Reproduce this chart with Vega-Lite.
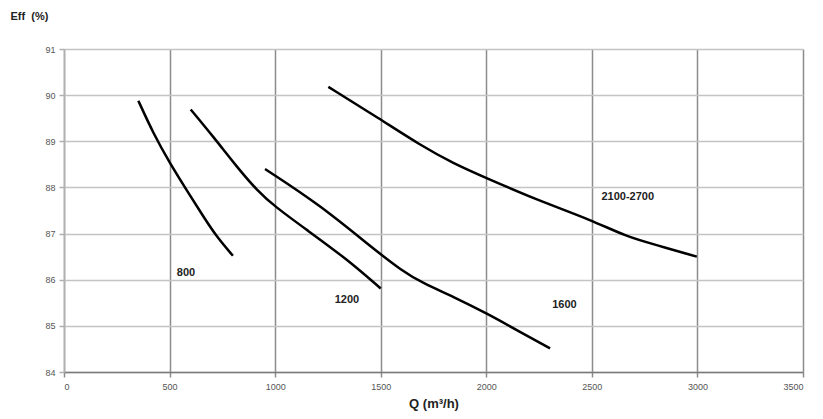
{
  "$schema": "https://vega.github.io/schema/vega-lite/v6.json",
  "width": 739,
  "height": 323,
  "autosize": {"type": "none"},
  "padding": {"left": 64, "top": 49, "right": 20, "bottom": 47},
  "background": "white",
  "config": {"view": {"stroke": null}, "font": "Liberation Sans"},
  "datasets": {
    "curves": [
      {"s": "800", "q": 352, "eff": 89.88},
      {"s": "800", "q": 423, "eff": 89.17},
      {"s": "800", "q": 502, "eff": 88.52},
      {"s": "800", "q": 581, "eff": 87.94},
      {"s": "800", "q": 660, "eff": 87.37},
      {"s": "800", "q": 723, "eff": 86.93},
      {"s": "800", "q": 800, "eff": 86.52},
      {"s": "1200", "q": 600, "eff": 89.69},
      {"s": "1200", "q": 707, "eff": 89.1},
      {"s": "1200", "q": 818, "eff": 88.45},
      {"s": "1200", "q": 913, "eff": 87.94},
      {"s": "1200", "q": 1000, "eff": 87.58},
      {"s": "1200", "q": 1150, "eff": 87.08},
      {"s": "1200", "q": 1339, "eff": 86.45},
      {"s": "1200", "q": 1500, "eff": 85.81},
      {"s": "1600", "q": 952, "eff": 88.4},
      {"s": "1600", "q": 1212, "eff": 87.62},
      {"s": "1600", "q": 1449, "eff": 86.73},
      {"s": "1600", "q": 1607, "eff": 86.17},
      {"s": "1600", "q": 1702, "eff": 85.92},
      {"s": "1600", "q": 1845, "eff": 85.63},
      {"s": "1600", "q": 2002, "eff": 85.27},
      {"s": "1600", "q": 2160, "eff": 84.87},
      {"s": "1600", "q": 2302, "eff": 84.51},
      {"s": "2100-2700", "q": 1252, "eff": 90.18},
      {"s": "2100-2700", "q": 1497, "eff": 89.48},
      {"s": "2100-2700", "q": 1686, "eff": 88.92},
      {"s": "2100-2700", "q": 1844, "eff": 88.52},
      {"s": "2100-2700", "q": 2002, "eff": 88.2},
      {"s": "2100-2700", "q": 2239, "eff": 87.73},
      {"s": "2100-2700", "q": 2500, "eff": 87.29},
      {"s": "2100-2700", "q": 2665, "eff": 86.93},
      {"s": "2100-2700", "q": 2807, "eff": 86.75},
      {"s": "2100-2700", "q": 2997, "eff": 86.5}
    ],
    "labels": [
      {"label": "800", "q": 578, "eff": 86.15},
      {"label": "1200", "q": 1340, "eff": 85.56},
      {"label": "1600", "q": 2370, "eff": 85.45},
      {"label": "2100-2700", "q": 2670, "eff": 87.8}
    ]
  },
  "layer": [
    {
      "data": {"name": "curves"},
      "mark": {"type": "line", "color": "black", "strokeWidth": 2.5, "interpolate": "basis"},
      "encoding": {
        "x": {
          "field": "q", "type": "quantitative",
          "scale": {"domain": [0, 3500], "nice": false},
          "axis": {
            "values": [0, 500, 1000, 1500, 2000, 2500, 3000, 3500],
            "format": "d",
            "title": "Q (m³/h)",
            "titleFont": "Liberation Sans", "titleFontSize": 13, "titleFontWeight": "bold", "titleColor": "#222",
            "titlePadding": 6,
            "labelFontSize": 9, "labelColor": "#555", "labelPadding": 5,
            "grid": true, "gridColor": "#8c8c8c", "gridWidth": 1.5,
            "domainColor": "#7a7a7a", "domainWidth": 1.5,
            "tickColor": "#8c8c8c", "tickSize": 5, "tickWidth": 1.5
          }
        },
        "y": {
          "field": "eff", "type": "quantitative",
          "scale": {"domain": [84, 91], "nice": false, "zero": false},
          "axis": {
            "values": [84, 85, 86, 87, 88, 89, 90, 91],
            "title": "Eff\u00a0\u00a0(%)",
            "titleAngle": 0, "titleAlign": "left", "titleBaseline": "middle",
            "titleX": -54, "titleY": -33,
            "titleFont": "Liberation Sans", "titleFontSize": 11, "titleFontWeight": "bold", "titleColor": "#222",
            "labelFontSize": 9, "labelColor": "#555", "labelPadding": 4,
            "grid": true, "gridColor": "#c4c4c4", "gridWidth": 1.5,
            "domainColor": "#b0b0b0", "domainWidth": 1.5,
            "tickColor": "#b0b0b0", "tickSize": 5, "tickWidth": 1.5
          }
        },
        "detail": {"field": "s"}
      }
    },
    {
      "data": {"name": "labels"},
      "mark": {"type": "text", "fontSize": 11, "fontWeight": "bold", "color": "#222", "align": "center", "baseline": "middle"},
      "encoding": {
        "x": {"field": "q", "type": "quantitative"},
        "y": {"field": "eff", "type": "quantitative"},
        "text": {"field": "label"}
      }
    }
  ]
}
